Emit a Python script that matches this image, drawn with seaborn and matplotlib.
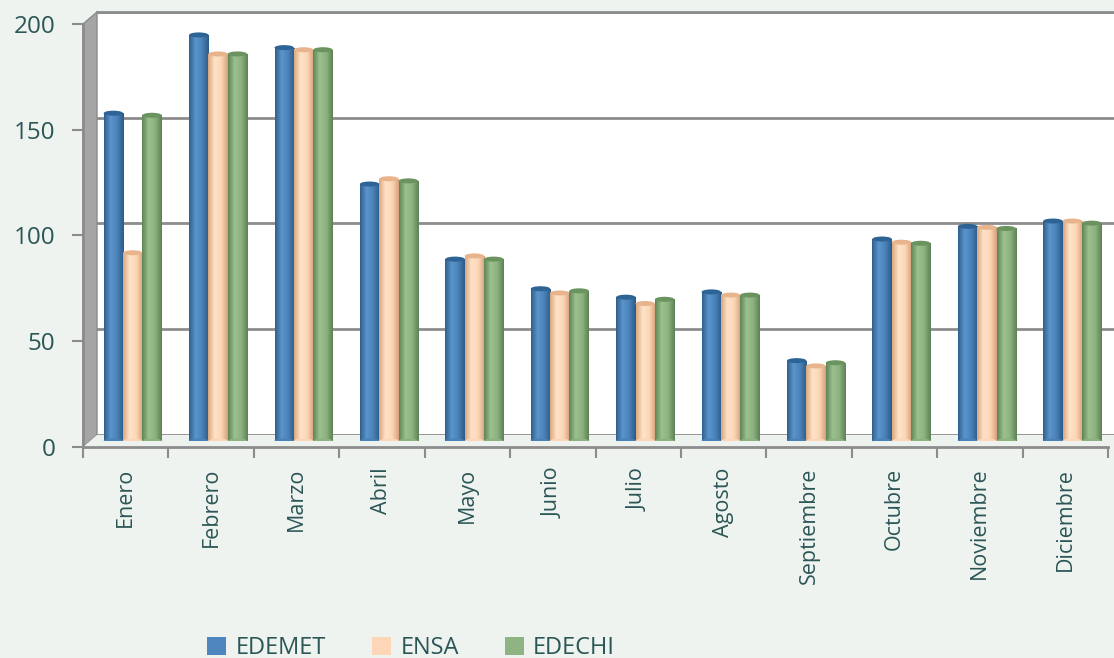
import numpy as np
import pandas as pd
import matplotlib
matplotlib.use("Agg")
import matplotlib.pyplot as plt
from matplotlib.colors import LinearSegmentedColormap
from matplotlib.patches import Ellipse, Polygon, Patch
import seaborn as sns

# datos
meses = ['Enero', 'Febrero', 'Marzo', 'Abril', 'Mayo', 'Junio',
         'Julio', 'Agosto', 'Septiembre', 'Octubre', 'Noviembre', 'Diciembre']
edemet = [155, 192, 186, 121.5, 86, 72, 68, 70.5, 38, 95.5, 101.5, 104]
ensa = [89, 183, 185, 124, 87.5, 70, 65, 69, 35.5, 94, 101, 104]
edechi = [154, 183, 185, 123, 86, 71, 67, 69, 37, 93.5, 100.5, 103]
empresas = ['EDEMET', 'ENSA', 'EDECHI']
yticks = [0, 50, 100, 150, 200]

colores = {'EDEMET': '#4F86BE', 'ENSA': '#FCD6B6', 'EDECHI': '#8FB483'}
# sombreado tipo cilindro: oscuro - claro - oscuro
sombras = {'EDEMET': ['#2F5F8E', '#5A95CB', '#4A82B8', '#2C5A88'],
           'ENSA': ['#D9A880', '#FFE3C8', '#FCD6B6', '#D6A27A'],
           'EDECHI': ['#5F8456', '#9CC18F', '#8CB280', '#5E8255']}
tapas = {'EDEMET': '#2E6396', 'ENSA': '#E8B48E', 'EDECHI': '#6A9360'}

texto = '#2B5656'
fondo = '#EEF3EF'

df = pd.DataFrame({'mes': meses * 3,
                   'valor': edemet + ensa + edechi,
                   'empresa': np.repeat(empresas, len(meses))})

W, H = 1114, 658
fig = plt.figure(figsize=(W / 100, H / 100), dpi=100)
fig.patch.set_facecolor(fondo)
plt.rcParams['font.family'] = ['Open Sans', 'DejaVu Sans']

# 3D: pared del fondo, barras al medio, ejes al frente (desplazados en px)
pw, ph = 1025, 423
dx, dy = 14, 12
def pos(left, top):
    return [left / W, (H - top - ph) / H, pw / W, ph / H]

ax_back = fig.add_axes(pos(83 + dx, 24 - dy))
ax_mid = fig.add_axes(pos(83 + dx / 2, 24 - dy / 2))
ax_front = fig.add_axes(pos(83, 24))

for a in (ax_back, ax_mid, ax_front):
    a.set_xlim(-0.5, len(meses) - 0.5)
    a.set_ylim(0, 200)

# pared lateral y piso
def fpix(x, y):
    return (x / W, (H - y) / H)
x0, yb, yt = 83, 24 + ph, 24
fig.patches.append(Polygon([fpix(x0, yb), fpix(x0 + dx, yb - dy), fpix(x0 + dx, yt - dy), fpix(x0, yt)],
                           closed=True, transform=fig.transFigure, facecolor='#A5A5A5',
                           edgecolor='#8C8C8C', lw=1, zorder=0))
fig.patches.append(Polygon([fpix(x0, yb), fpix(x0 + dx, yb - dy), fpix(x0 + pw + dx, yb - dy), fpix(x0 + pw, yb)],
                           closed=True, transform=fig.transFigure, facecolor='#EEF2EF',
                           edgecolor='none', zorder=0))

# fondo blanco con rejilla
ax_back.set_facecolor('white')
ax_back.set_yticks(yticks)
ax_back.set_xticks([])
ax_back.yaxis.grid(True, color='#8C8C8C', lw=2)
ax_back.tick_params(left=False, labelleft=False)
for s in ax_back.spines.values():
    s.set_visible(False)
ax_back.spines['top'].set_visible(True)
ax_back.spines['top'].set_color('#8C8C8C')
ax_back.spines['top'].set_linewidth(2)
ax_back.set_zorder(0)

# barras
sns.barplot(data=df, x='mes', y='valor', hue='empresa', palette=colores,
            width=0.68, gap=0, ax=ax_mid, legend=False, saturation=1)
ax_mid.set_xlim(-0.5, len(meses) - 0.5)
ax_mid.set_ylim(0, 200)
ax_mid.patch.set_alpha(0)
ax_mid.axis('off')
ax_mid.set_zorder(2)

unid_px = 200 / ph
grad = np.linspace(0, 1, 64).reshape(1, -1)
for i, emp in enumerate(empresas):
    cmap = LinearSegmentedColormap.from_list(emp, sombras[emp])
    cont = ax_mid.containers[i]
    for bar in cont.patches:
        x, w, h = bar.get_x(), bar.get_width(), bar.get_height()
        bar.set_facecolor('none')
        bar.set_edgecolor('none')
        img = ax_mid.imshow(grad, cmap=cmap, aspect='auto',
                            extent=(x, x + w, 0, h), zorder=3)
        img.set_clip_path(bar)
        ax_mid.add_patch(Ellipse((x + w / 2, 0), w, 5 * unid_px,
                                 facecolor=sombras[emp][2], edgecolor='none', zorder=3))
        ax_mid.add_patch(Ellipse((x + w / 2, h), w, 5 * unid_px,
                                 facecolor=tapas[emp], edgecolor='none', zorder=4))
ax_mid.set_xlim(-0.5, len(meses) - 0.5)
ax_mid.set_ylim(0, 200)

# ejes del frente
ax_front.patch.set_alpha(0)
ax_front.set_zorder(3)
for s in ['top', 'right']:
    ax_front.spines[s].set_visible(False)
for s in ['left', 'bottom']:
    ax_front.spines[s].set_color('#8C8C8C')
    ax_front.spines[s].set_linewidth(2)
ax_front.set_yticks(yticks)
ax_front.set_yticklabels([str(v) for v in yticks], fontsize=17.5, color=texto)
ax_front.set_xticks(np.arange(-0.5, len(meses)), labels=[''] * (len(meses) + 1))
ax_front.set_xticks(np.arange(len(meses)), labels=meses, minor=True)
ax_front.tick_params(axis='y', length=8, width=1.5, color='#8C8C8C', pad=12)
ax_front.tick_params(axis='x', which='major', length=8, width=1.5, color='#8C8C8C')
ax_front.tick_params(axis='x', which='minor', length=0, pad=15, labelsize=15.5,
                     labelcolor=texto, labelrotation=90)
for lab in ax_front.get_xticklabels(minor=True):
    lab.set_verticalalignment('top')

# leyenda
handles = [Patch(facecolor=colores[e], edgecolor='none') for e in empresas]
fig.legend(handles, empresas, loc='lower left', bbox_to_anchor=(186 / W, -0.035),
           ncol=3, frameon=False, fontsize=17, labelcolor=texto,
           handlelength=0.8, handleheight=0.8, handletextpad=0.4, columnspacing=1.95)

plt.savefig('out.png', dpi=100, facecolor=fondo)
